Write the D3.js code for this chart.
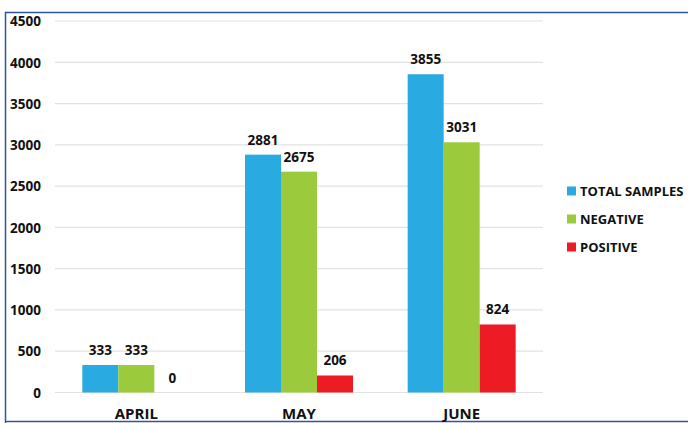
<!DOCTYPE html>
<html><head><meta charset="utf-8">
<script src="https://cdn.jsdelivr.net/npm/d3@7"></script>
<style>body{margin:0;background:#fff}svg{display:block}text{font-family:"Open Sans",sans-serif;font-weight:700;fill:#111}</style>
</head><body>
<script>
const categories = ["APRIL", "MAY", "JUNE"];
const seriesNames = ["TOTAL SAMPLES", "NEGATIVE", "POSITIVE"];
const totalSamples = [333, 2881, 3855];
const negative = [333, 2675, 3031];
const positive = [0, 206, 824];
const yTicks = [0, 500, 1000, 1500, 2000, 2500, 3000, 3500, 4000, 4500];
const colors = ["#29abe2", "#9bcb3c", "#ed1c24"];

const W = 688, H = 423;
const svg = d3.select("body").append("svg").attr("width", W).attr("height", H);

// frame
svg.append("path").attr("d", `M5.5,${H+2} V12.5 H${W+2}`).attr("fill","none").attr("stroke","#2f55a8").attr("stroke-width",1.5);
svg.append("line").attr("x1",5).attr("x2",W+2).attr("y1",421.5).attr("y2",421.5).attr("stroke","#2f55a8").attr("stroke-width",1.5);

const y = d3.scaleLinear().domain([0, 4500]).range([392.5, 21]);
const x = d3.scaleBand().domain(categories).range([55, 543]).padding(0);
const x1 = d3.scaleBand().domain(seriesNames).range([0, 108]);

// gridlines
svg.append("g").selectAll("line").data(yTicks).join("line")
  .attr("x1", 55).attr("x2", 543).attr("y1", d => y(d)).attr("y2", d => y(d))
  .attr("stroke", "#e2e2e2").attr("stroke-width", 1.2);

// y axis labels
const yAxis = d3.axisLeft(y).tickValues(yTicks).tickFormat(d3.format("d")).tickSize(0).tickPadding(0);
const gy = svg.append("g").attr("transform", "translate(41,0)").call(yAxis);
gy.select(".domain").remove();
gy.selectAll("text").attr("font-size", "13.5px").attr("font-family", '"Open Sans",sans-serif').attr("font-weight", 700).attr("fill", "#111").attr("dy", "0.35em");

// x axis labels
const xAxis = d3.axisBottom(x).tickSize(0).tickPadding(0);
const gx = svg.append("g").attr("transform", "translate(0,410)").call(xAxis);
gx.select(".domain").remove();
gx.selectAll("text").attr("font-size", "15px").attr("font-family", '"Open Sans",sans-serif').attr("font-weight", 700).attr("fill", "#111").attr("dy", "0.6em");

const series = [totalSamples, negative, positive];
const data = [];
categories.forEach((c, i) => seriesNames.forEach((s, j) => data.push({c, s, v: series[j][i], j})));

const groupX = c => x(c) + (x.bandwidth() - 108) / 2;

svg.append("g").selectAll("rect").data(data).join("rect")
  .attr("x", d => groupX(d.c) + x1(d.s))
  .attr("width", x1.bandwidth())
  .attr("y", d => y(d.v))
  .attr("height", d => y(0) - y(d.v))
  .attr("fill", d => colors[d.j]);

svg.append("g").selectAll("text").data(data).join("text")
  .attr("x", d => groupX(d.c) + x1(d.s) + x1.bandwidth() / 2)
  .attr("y", d => y(d.v) - 10)
  .attr("text-anchor", "middle")
  .attr("font-size", "13.5px")
  .text(d => d.v);

// legend
const lg = svg.append("g").selectAll("g").data(seriesNames).join("g")
  .attr("transform", (d, i) => `translate(567,${191 + i * 28})`);
lg.append("rect").attr("x", 0).attr("y", -4.5).attr("width", 9).attr("height", 9).attr("fill", (d, i) => colors[i]);
lg.append("text").attr("x", 13).attr("dy", "0.36em").attr("font-size", "13px").text(d => d);
</script>
</body></html>
